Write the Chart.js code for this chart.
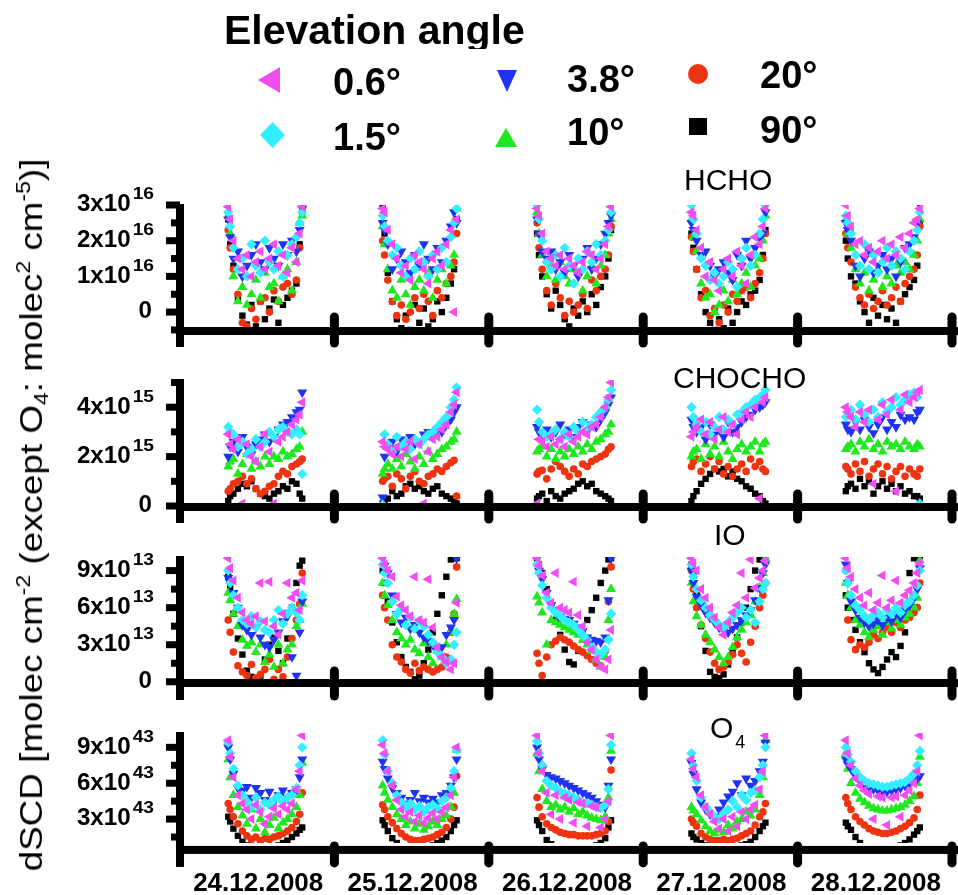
<!DOCTYPE html>
<html><head><meta charset="utf-8">
<script src="https://cdn.jsdelivr.net/npm/chart.js@4.4.1/dist/chart.umd.min.js"></script>
<style>
html,body{margin:0;padding:0;background:#fff;}
#wrap{position:relative;width:958px;height:895px;overflow:hidden;font-family:'Liberation Sans',Arial,Helvetica,sans-serif;color:#000;}
canvas{position:absolute;left:0;top:0;}
.t{position:absolute;white-space:nowrap;}
.mk{position:absolute;}
.lg{font-weight:bold;font-size:38px;line-height:38px;}
.pn{font-size:30px;line-height:30px;}
.sp{font-size:20px;line-height:0;vertical-align:12px;}
.sb{font-size:20px;line-height:0;vertical-align:-6px;}
</style></head><body>
<div id="wrap">
<canvas id="c0" width="958" height="895"></canvas>
<canvas id="c1" width="958" height="895"></canvas>
<canvas id="c2" width="958" height="895"></canvas>
<canvas id="c3" width="958" height="895"></canvas>

<div class="t" style="left:224px;top:10px;height:39px;overflow:hidden;font-weight:bold;font-size:41px;line-height:41px;">Elevation angle</div>
<div class="mk" style="left:258px;top:67px;width:22px;height:26px;background:#f24df2;clip-path:polygon(0 50%,100% 0,100% 100%);"></div>
<div class="mk" style="left:260px;top:122px;width:25px;height:26px;background:#33eeff;clip-path:polygon(50% 0,100% 50%,50% 100%,0 50%);"></div>
<div class="mk" style="left:497px;top:70px;width:20px;height:22px;background:#1f33f2;clip-path:polygon(0 0,100% 0,50% 100%);"></div>
<div class="mk" style="left:495px;top:128px;width:22px;height:19px;background:#1fe81f;clip-path:polygon(50% 0,100% 100%,0 100%);"></div>
<div class="mk" style="left:688px;top:64px;width:20px;height:20px;border-radius:50%;background:#ee3311;"></div>
<div class="mk" style="left:689px;top:118px;width:18px;height:17px;background:#000;"></div>
<div class="t lg" id="lg0" style="left:333px;top:63px;"></div>
<div class="t lg" id="lg1" style="left:333px;top:118px;"></div>
<div class="t lg" id="lg2" style="left:567px;top:60px;"></div>
<div class="t lg" id="lg3" style="left:567px;top:113px;"></div>
<div class="t lg" id="lg4" style="left:760px;top:56px;"></div>
<div class="t lg" id="lg5" style="left:760px;top:111px;"></div>

<div class="t pn" style="left:684px;top:165px;">HCHO</div>
<div class="t pn" style="left:673px;top:363px;">CHOCHO</div>
<div class="t pn" style="left:714px;top:520px;">IO</div>
<div class="t pn" style="left:710px;top:713px;">O<span style="font-size:18px;line-height:0;vertical-align:-10px;margin-left:2px;">4</span></div>

<div class="t" style="left:31px;top:515px;font-size:32px;line-height:32px;transform:translate(-50%,-50%) rotate(-90deg) scaleX(1.15);">dSCD [molec cm<span class="sp">-2</span> (except O<span class="sb">4</span>: molec<span class="sp">2</span> cm<span class="sp">-5</span>)]</div>
</div>
<script>
// ---------------- data ----------------
const hours = [7.5, 7.8, 8.3, 9.0, 9.7, 10.4, 11.1, 11.8, 12.5, 13.2, 13.9, 14.6, 15.3, 16.0, 16.7, 17.4, 18.1, 18.6, 19.0];
const days = ['24.12.2008', '25.12.2008', '26.12.2008', '27.12.2008', '28.12.2008'];
const elevations = ['0.6°', '1.5°', '3.8°', '10°', '20°', '90°'];

// HCHO dSCD, units of 1e16 molec cm^-2 (one row per day)
const hcho_e06 = [
 [2.95,2.6,2.0,1.5,1.2,1.6,1.0,1.4,1.7,1.2,1.5,1.9,1.3,1.6,1.1,1.8,1.4,2.2,2.95],
 [2.9,2.8,2.3,1.9,1.5,1.1,1.3,0.9,1.6,1.4,1.2,0.8,1.5,1.7,1.3,1.9,2.3,0.0,2.6],
 [2.9,2.7,2.2,1.7,1.5,1.3,1.6,1.2,1.5,1.3,1.1,1.4,1.7,1.6,1.2,1.5,1.9,2.4,2.95],
 [2.8,2.7,2.3,1.8,1.0,1.4,0.9,0.6,1.2,1.5,1.0,1.7,1.3,0.8,1.6,2.1,1.9,2.4,2.9],
 [3.0,2.7,2.4,1.9,2.0,1.6,1.8,1.4,1.7,2.0,1.5,1.9,1.6,2.1,1.8,2.2,2.5,2.6,2.9]];
const hcho_e15 = [
 [2.8,2.4,1.8,1.2,1.5,1.0,1.9,1.3,1.1,2.0,1.4,1.2,1.7,1.0,1.6,1.9,2.1,2.5,2.8],
 [2.7,2.4,2.0,1.6,1.8,1.3,1.0,1.5,1.2,1.7,1.4,1.0,1.6,1.2,1.8,1.4,2.1,2.5,2.9],
 [3.0,2.6,2.0,1.4,1.2,1.6,1.0,1.8,1.3,0.8,1.5,1.2,1.7,1.4,1.9,1.6,2.0,2.3,2.8],
 [3.0,2.6,2.2,1.5,1.3,0.9,1.1,0.8,1.0,1.4,1.2,0.7,1.5,1.8,1.3,1.6,2.2,2.6,3.0],
 [2.7,2.5,2.2,1.6,1.3,1.9,1.2,1.6,1.1,1.4,1.8,1.3,1.7,1.5,1.2,1.7,2.0,2.3,2.8]];
const hcho_e38 = [
 [2.6,2.1,1.5,1.7,1.0,1.3,1.6,1.9,1.4,1.2,1.8,1.5,1.3,1.9,1.6,2.0,1.7,2.3,2.9],
 [2.5,2.3,1.9,1.2,1.5,1.7,1.4,1.1,1.6,1.3,1.9,1.5,1.2,1.8,1.4,2.0,2.4,2.8,2.5],
 [2.6,2.2,1.7,1.5,1.7,1.2,1.4,1.1,1.6,1.3,1.0,1.5,1.8,1.2,1.5,1.9,2.2,2.5,2.7],
 [2.5,2.3,2.0,1.6,1.7,1.3,1.0,1.2,1.4,1.1,0.9,1.6,1.3,2.0,1.5,1.8,2.1,2.2,2.8],
 [2.5,2.3,2.0,1.3,1.0,1.5,1.7,1.1,1.3,1.6,1.2,1.5,1.0,1.4,1.8,1.9,2.1,2.5,3.0]];
const hcho_e10 = [
 [2.7,2.2,1.0,0.3,0.7,0.2,0.5,0.9,0.4,1.1,0.7,0.8,0.3,1.0,1.2,0.6,1.4,2.5,2.7],
 [2.4,1.9,1.2,0.6,0.4,0.9,0.5,0.2,0.7,0.9,0.6,1.1,0.4,0.9,1.2,0.8,1.3,1.6,2.9],
 [2.8,2.2,1.6,1.0,1.3,0.9,1.4,1.0,0.8,1.2,1.1,0.6,1.0,1.3,0.8,1.3,1.6,2.2,2.6],
 [2.6,2.1,1.7,0.8,0.4,0.5,0.0,0.2,0.6,0.3,0.9,0.5,0.8,1.1,0.7,1.3,1.5,2.0,2.7],
 [2.6,2.2,1.8,1.2,0.8,1.1,0.6,0.9,1.2,0.7,1.0,0.8,1.3,1.1,1.4,1.2,1.6,2.0,2.6]];
const hcho_e20 = [
 [2.3,1.8,1.2,0.5,-0.3,-0.4,0.1,-0.2,0.3,0.4,0.0,0.6,0.3,0.7,0.8,0.5,0.9,1.8,2.8],
 [2.0,1.6,0.9,0.3,-0.1,0.2,-0.2,0.0,0.4,0.1,0.5,0.3,-0.1,0.6,0.4,0.8,1.0,1.4,2.2],
 [2.5,1.8,1.2,0.6,0.2,0.8,0.4,-0.1,0.3,0.0,0.2,0.5,0.1,0.9,0.6,1.0,1.2,1.6,2.4],
 [2.1,1.7,1.2,0.4,0.6,-0.1,0.1,-0.3,0.2,0.0,0.5,0.3,0.6,0.7,0.4,0.8,1.1,1.5,2.2],
 [2.2,1.8,1.4,0.7,0.4,0.2,0.5,0.1,0.3,0.6,0.2,0.4,0.7,0.3,0.8,1.0,1.2,1.6,2.4]];
const hcho_e90 = [
 [2.6,1.9,1.3,0.4,-0.1,-0.35,0.2,-0.4,0.3,-0.2,0.1,0.35,-0.3,0.2,0.4,0.6,0.8,1.9,2.9],
 [3.0,2.2,1.1,0.3,-0.2,-0.45,-0.1,-0.5,0.2,-0.3,0.1,-0.4,-0.2,0.3,0.0,0.4,0.8,1.2,2.6],
 [2.2,1.6,1.0,0.5,0.1,0.6,0.2,-0.2,-0.4,0.1,-0.1,0.3,0.0,0.5,0.2,0.7,1.0,1.5,2.3],
 [2.2,1.8,1.2,0.5,0.0,-0.3,-0.5,-0.2,-0.45,0.1,-0.3,0.0,0.3,0.2,0.5,0.6,0.9,1.6,2.3],
 [2.0,1.5,1.0,0.8,0.3,0.0,-0.3,0.4,-0.1,0.2,-0.2,0.1,-0.3,0.3,0.5,0.7,0.9,1.3,2.5]];

// CHOCHO dSCD, units of 1e15 molec cm^-2
const chocho_e06 = [
 [2.9,2.5,2.3,2.7,0.1,2.5,2.0,1.8,2.4,2.9,2.2,0.1,2.6,2.8,3.0,3.3,3.5,3.7,4.2],
 [2.6,2.4,2.3,2.1,2.4,2.0,2.3,2.6,1.9,2.5,0.1,2.2,2.7,2.8,3.1,3.3,3.8,4.1,4.6],
 [0.1,2.7,2.6,2.4,2.8,2.5,2.7,2.4,2.9,2.6,2.8,3.0,2.9,3.2,3.3,3.6,4.0,4.4,5.0],
 [2.8,3.0,3.2,3.5,2.9,3.4,2.7,3.1,3.6,3.0,3.3,2.9,3.5,3.8,3.6,4.0,0.3,4.2,4.4],
 [4.0,3.8,3.6,3.2,3.8,3.4,3.9,0.9,3.5,4.1,3.7,4.3,0.6,3.9,4.5,4.2,4.4,4.6,4.7]];
const chocho_e15 = [
 [3.2,3.0,2.9,2.4,2.6,2.1,2.3,2.7,2.4,2.6,3.0,2.8,3.1,3.2,3.0,2.9,3.1,2.9,1.3],
 [0.05,2.9,2.5,2.2,2.8,2.4,2.6,2.3,2.7,2.5,2.7,2.9,3.0,3.2,3.4,3.6,4.0,4.3,4.8],
 [3.9,3.4,3.0,2.8,2.9,3.1,2.7,3.0,2.8,3.2,3.0,3.4,3.1,3.3,3.6,3.8,4.0,4.3,4.7],
 [4.0,3.6,3.3,3.0,3.4,2.9,3.2,3.6,3.1,3.5,3.3,3.7,3.8,4.0,4.1,4.3,4.4,4.5,4.7],
 [3.6,3.8,3.9,3.5,4.1,3.7,3.4,3.9,3.6,4.2,3.8,4.0,4.4,4.1,4.3,4.5,4.6,4.4,0.1]];
const chocho_e38 = [
 [2.0,2.4,2.6,2.2,2.8,2.4,2.1,2.5,2.7,2.9,2.6,2.8,3.1,3.3,3.4,3.6,3.8,3.9,4.6],
 [0.35,2.0,2.4,2.6,2.2,2.7,2.4,2.8,2.5,2.6,2.9,3.0,2.8,3.1,3.0,3.3,3.5,3.8,4.0],
 [3.2,3.0,2.9,3.1,2.8,3.0,3.3,2.9,3.1,2.8,3.2,3.4,3.0,3.3,3.2,3.5,3.8,4.1,4.4],
 [3.5,3.2,3.0,3.2,2.7,3.3,2.9,3.1,2.8,3.4,3.0,3.2,3.4,3.6,3.7,3.9,4.0,4.1,4.2],
 [3.3,3.1,3.0,3.4,3.1,3.5,3.2,2.95,3.3,3.6,3.1,3.4,3.2,3.7,3.5,3.6,3.5,3.8,3.9]];
const chocho_e10 = [
 [1.6,1.8,1.9,1.3,1.7,2.1,1.5,1.8,1.6,2.0,1.7,2.0,1.9,2.2,2.0,2.1,2.3,2.4,3.0],
 [1.3,1.5,1.7,1.5,1.9,1.6,2.1,1.8,1.5,2.0,1.7,2.2,1.9,2.1,2.3,2.4,2.6,2.7,3.0],
 [2.2,2.3,2.4,2.0,2.3,1.9,2.2,2.0,2.3,2.1,2.4,2.2,2.5,2.3,2.6,2.7,2.9,3.0,3.3],
 [2.0,2.2,2.3,1.9,2.5,2.1,2.4,2.0,2.6,2.2,1.9,2.3,2.5,2.2,2.4,2.6,2.2,2.5,2.6],
 [2.3,2.4,2.5,2.2,2.6,2.4,2.7,2.3,2.5,2.2,2.6,2.4,2.5,2.3,2.6,2.4,2.3,2.5,2.4]];
const chocho_e20 = [
 [0.6,0.7,0.9,1.0,1.2,0.9,1.1,0.7,0.5,0.6,0.8,0.9,1.2,1.4,1.3,1.6,1.7,1.8,1.9],
 [1.0,1.1,1.2,0.8,1.3,1.1,0.7,1.2,1.4,1.0,0.9,1.2,1.3,1.5,1.4,1.6,1.75,1.85,0.4],
 [1.3,1.4,1.45,1.1,1.5,1.8,1.6,1.4,1.2,1.5,1.3,1.7,1.6,1.8,1.9,2.0,2.1,2.3,2.4],
 [1.6,1.8,1.9,1.4,1.7,2.0,1.5,1.8,1.3,1.6,1.2,1.5,1.7,1.4,1.9,1.6,1.8,1.5,1.4],
 [1.6,1.5,1.3,1.7,1.4,1.8,1.2,1.5,1.7,1.3,1.6,1.1,1.4,1.6,1.2,1.5,1.3,1.2,1.5]];
const chocho_e90 = [
 [0.2,0.4,0.5,0.7,0.9,0.8,1.0,0.7,0.5,0.4,0.3,0.5,0.6,0.8,0.7,1.0,0.9,0.5,0.3],
 [0.1,0.2,0.3,0.6,0.4,0.5,0.8,0.9,0.7,0.8,0.6,0.5,0.7,0.8,0.5,0.4,0.3,0.2,0.1],
 [0.3,0.4,0.5,0.2,0.6,0.4,0.3,0.5,0.6,0.7,0.9,1.0,0.8,0.9,0.6,0.5,0.4,0.3,0.2],
 [0.2,0.4,0.6,0.9,1.1,1.3,1.5,1.4,1.5,1.2,1.4,1.1,1.0,0.8,0.7,0.5,0.4,0.2,0.1],
 [0.6,0.8,0.9,0.7,1.1,0.8,1.0,0.5,0.8,1.0,0.7,0.9,0.6,0.8,0.5,0.6,0.4,0.4,0.3]];

// IO dSCD, units of 1e13 molec cm^-2
const io_e06 = [
 [10.0,9.2,8.2,6.8,5.6,5.0,4.7,5.3,8.0,4.9,8.1,4.5,3.8,5.5,8.0,6.8,7.2,5.8,8.2],
 [10.0,9.5,9.0,8.5,6.9,6.2,5.8,5.3,8.5,5.0,4.8,8.3,4.4,2.8,2.0,1.6,1.0,1.5,6.4],
 [10.0,9.4,8.6,7.2,6.4,8.8,6.0,5.8,5.6,8.1,5.4,4.5,3.2,2.6,1.8,1.2,1.0,1.8,4.2],
 [10.0,9.6,9.0,7.5,6.8,6.0,5.2,4.4,3.8,4.8,5.6,6.2,8.8,6.8,9.9,7.6,8.4,9.0,9.8],
 [10.0,9.2,8.5,7.5,6.8,6.2,7.2,5.8,6.4,8.6,6.0,6.6,8.2,6.4,7.0,7.4,8.0,8.8,9.6]];
const io_e15 = [
 [9.0,8.0,7.0,6.0,5.0,4.7,5.3,4.4,4.9,4.2,4.0,5.0,5.8,4.7,5.5,6.0,5.6,5.0,7.0],
 [9.5,8.8,8.0,6.5,5.5,5.9,4.6,5.2,4.3,4.9,4.5,3.8,3.2,2.4,2.0,1.5,1.8,3.0,4.0],
 [9.5,8.8,7.8,6.8,6.0,5.6,5.3,5.0,4.8,4.6,4.2,3.8,3.4,2.8,2.4,2.2,2.6,3.4,5.5],
 [9.5,8.5,7.5,6.6,6.0,5.4,5.0,4.6,4.4,4.8,5.2,5.6,6.0,5.2,5.8,4.8,6.5,7.5,8.0],
 [9.0,8.0,7.0,6.2,5.8,5.3,5.0,5.4,5.6,5.2,5.8,5.5,6.0,5.6,6.2,6.5,7.0,7.8,9.0]];
const io_e38 = [
 [8.4,8.0,7.2,6.0,4.6,4.2,3.8,4.4,3.6,3.0,2.8,3.4,4.0,4.9,5.3,2.0,0.5,4.0,6.5],
 [10.0,9.4,8.8,7.0,5.5,4.8,5.2,4.3,4.6,4.0,3.6,3.3,3.0,2.5,2.8,3.8,4.4,5.0,10.0],
 [10.0,9.0,8.3,7.2,6.2,5.5,5.3,5.1,5.0,4.7,4.4,4.1,3.6,3.4,3.3,3.2,3.6,6.6,10.0],
 [9.0,8.0,6.9,6.2,5.6,5.2,4.8,4.4,4.2,4.0,4.3,4.6,5.0,5.4,5.8,6.6,7.6,8.8,9.5],
 [9.5,8.0,6.5,5.8,5.2,4.8,4.5,4.7,5.0,4.6,5.2,4.9,5.5,5.2,5.8,6.2,6.8,7.5,9.2]];
const io_e10 = [
 [7.2,6.6,5.5,4.5,3.4,2.9,3.2,2.4,3.0,1.6,2.2,1.2,3.0,1.5,2.6,3.0,4.5,5.0,6.3],
 [8.0,7.0,6.2,5.0,4.0,3.5,3.0,3.4,2.6,2.3,3.1,2.0,1.5,2.5,2.0,3.0,4.0,5.5,6.7],
 [6.9,6.4,5.6,3.0,5.0,4.8,4.6,4.4,4.2,4.0,3.8,3.4,3.0,2.5,1.8,1.2,2.0,5.0,7.5],
 [8.0,6.5,5.3,4.6,3.8,3.2,2.6,2.0,1.5,2.0,2.8,3.6,4.2,4.8,5.4,6.5,7.6,8.8,10.0],
 [8.0,7.0,6.0,5.0,4.6,4.0,3.6,4.2,4.5,3.8,4.8,4.3,5.0,4.6,5.2,5.5,6.0,6.8,9.8]];
const io_e20 = [
 [5.0,4.0,2.4,1.3,0.8,0.5,1.4,0.3,0.6,1.0,1.8,0.2,1.0,0.4,2.0,3.5,5.0,6.3,8.8],
 [7.0,6.0,5.0,3.0,2.0,1.6,1.0,0.7,1.5,0.9,1.2,1.0,0.8,1.0,1.2,2.0,4.0,5.5,9.3],
 [2.3,1.5,0.5,2.0,3.0,3.3,3.6,3.4,3.2,2.9,2.6,2.4,2.1,1.8,1.5,1.3,2.5,6.5,9.3],
 [9.0,7.5,6.0,4.6,3.5,2.4,1.5,1.0,1.2,1.6,2.2,3.0,2.3,1.6,3.2,4.5,6.0,7.0,8.0],
 [9.0,5.0,3.4,2.6,3.0,2.8,3.2,3.8,3.5,4.0,4.4,4.0,4.8,4.4,5.0,5.2,5.6,6.0,8.0]];
const io_e90 = [
 [8.5,7.6,5.5,3.5,2.2,0.9,0.4,0.2,0.5,1.8,3.0,3.6,2.5,1.5,3.5,6.0,8.0,9.4,9.8],
 [9.0,8.0,6.5,4.8,3.2,2.0,1.2,0.8,0.2,0.5,1.5,2.6,4.0,5.5,7.0,8.5,9.9,10.0,10.0],
 [10.0,9.5,8.8,7.5,6.2,5.0,3.8,2.6,1.6,1.4,2.5,3.8,5.0,5.8,6.8,8.0,9.0,9.9,10.0],
 [9.5,8.6,7.0,4.5,2.5,0.8,0.4,0.3,0.6,1.4,2.4,3.6,4.8,6.0,7.5,9.0,9.9,10.0,10.0],
 [7.0,6.0,5.0,4.2,3.2,2.4,1.5,1.0,0.7,1.2,1.8,2.4,2.0,2.9,4.0,8.8,10.0,10.0,10.0]];

// O4 dSCD, units of 1e43 molec^2 cm^-5
const o4_e06 = [
 [9.6,8.2,6.5,5.0,4.3,3.8,3.0,4.2,3.6,2.6,3.2,3.9,3.4,4.1,3.8,4.3,5.5,7.0,10.0],
 [9.2,8.5,7.0,5.8,4.6,3.8,3.2,3.6,2.8,3.3,2.7,3.1,3.5,3.0,3.6,4.0,5.0,6.5,9.0],
 [10.0,8.5,7.0,5.2,3.4,5.0,3.0,4.8,4.6,2.7,4.4,4.3,2.4,4.1,4.0,2.3,3.0,4.5,10.0],
 [8.0,7.2,6.5,5.0,4.0,3.4,2.8,2.2,3.0,2.0,3.2,2.4,3.6,3.0,3.8,4.2,5.5,7.0,10.0],
 [9.6,8.5,7.5,6.4,5.8,5.4,5.1,3.0,4.9,4.8,2.5,4.8,4.9,3.2,5.0,5.4,6.0,7.0,10.0]];
const o4_e15 = [
 [9.4,8.5,7.2,5.8,5.0,4.5,4.0,4.8,3.8,4.4,4.2,4.6,4.9,4.4,4.8,5.0,5.6,7.5,9.0],
 [9.6,8.4,7.0,6.0,5.0,4.4,4.0,4.3,3.8,4.1,3.6,4.0,4.2,3.9,4.5,4.8,5.6,7.0,8.8],
 [9.5,8.5,7.5,6.2,5.8,5.6,5.3,5.1,5.0,4.8,4.6,4.4,4.3,4.2,4.0,3.9,4.2,5.5,9.2],
 [8.5,7.5,6.2,4.8,4.0,3.6,3.2,3.0,3.5,3.8,4.5,4.0,5.0,4.6,5.2,5.4,6.5,7.5,9.0],
 [9.0,8.4,7.8,7.0,6.5,6.2,6.0,5.9,5.8,5.7,5.7,5.8,5.9,6.0,6.1,6.4,6.8,7.5,8.7]];
const o4_e38 = [
 [9.0,8.0,6.8,5.6,5.4,5.7,4.8,5.6,5.2,4.6,5.3,4.4,5.0,5.4,4.8,5.2,5.5,6.5,8.0],
 [7.8,7.2,6.4,5.6,5.2,4.8,4.3,4.6,5.2,4.5,4.8,4.4,4.7,4.4,5.0,5.2,5.8,6.5,8.0],
 [9.0,8.0,7.2,6.7,6.5,6.4,6.2,6.0,5.8,5.6,5.4,5.2,5.0,4.8,4.5,4.2,4.0,5.8,8.0],
 [7.7,6.8,5.5,4.4,3.8,3.4,3.2,3.8,4.4,4.9,5.3,6.0,5.0,6.4,5.8,6.2,7.0,7.8,9.4],
 [8.0,7.6,7.2,6.6,6.2,5.9,5.7,5.5,5.4,5.3,5.3,5.4,5.5,5.6,5.8,6.0,6.2,6.4,6.6]];
const o4_e10 = [
 [8.0,6.5,5.0,4.0,3.3,2.6,3.8,2.2,3.0,1.9,2.5,3.1,2.2,2.7,3.0,3.4,4.0,5.0,7.7],
 [5.8,5.2,4.6,4.0,3.4,3.0,2.5,2.8,2.2,2.6,2.1,2.4,2.8,2.5,3.0,3.3,4.0,5.2,8.8],
 [8.5,7.0,5.5,4.5,4.0,4.2,3.8,4.0,3.6,3.9,3.4,3.6,3.3,3.1,3.0,2.9,3.2,4.8,8.7],
 [4.0,3.7,3.4,2.9,2.4,2.0,1.8,2.1,1.9,2.5,2.2,2.8,3.0,3.6,3.3,3.8,5.0,6.5,9.6],
 [8.5,7.2,6.0,5.2,4.7,4.4,4.1,3.9,3.8,3.7,3.7,3.8,3.9,4.0,4.2,4.5,4.9,6.0,8.2]];
const o4_e20 = [
 [4.3,3.8,3.2,2.6,2.0,1.6,1.3,1.5,1.2,1.4,1.3,1.5,1.6,1.8,2.0,2.3,2.8,3.4,5.2],
 [4.2,3.8,3.2,2.7,2.2,1.8,1.5,1.3,1.2,1.2,1.3,1.4,1.5,1.7,1.9,2.3,3.0,4.0,6.6],
 [4.8,4.0,3.2,2.6,2.3,2.1,1.9,1.8,1.7,1.7,1.6,1.6,1.6,1.6,1.7,1.8,2.0,2.8,7.1],
 [3.0,2.7,2.4,1.8,1.5,1.3,1.2,1.2,1.3,1.2,1.3,1.4,1.6,1.8,2.0,2.5,3.2,3.6,4.3],
 [4.8,4.3,3.8,3.2,2.8,2.5,2.2,2.0,1.9,1.8,1.8,1.9,2.0,2.2,2.4,2.7,3.1,3.8,5.0]];
const o4_e90 = [
 [3.2,2.8,2.2,1.6,1.1,0.8,0.6,0.5,0.5,0.5,0.6,0.7,0.8,1.0,1.2,1.5,1.8,2.1,2.3],
 [2.9,2.5,2.0,1.4,1.0,0.7,0.5,0.5,0.5,0.5,0.6,0.7,0.8,1.0,1.2,1.5,2.0,2.5,2.9],
 [2.9,2.5,2.0,1.25,0.9,0.7,0.6,0.5,0.5,0.5,0.5,0.6,0.6,0.7,0.8,1.0,1.4,2.3,2.9],
 [1.8,1.5,1.3,1.0,0.8,0.6,0.5,0.5,0.5,0.5,0.6,0.7,0.8,0.9,1.1,1.5,2.0,2.4,2.7],
 [2.7,2.4,2.1,1.5,1.0,0.7,0.5,0.4,0.4,0.4,0.4,0.5,0.6,0.8,1.0,1.3,1.7,2.0,2.3]];

// tick values / labels
const hchoTicks = [0, 1, 2, 3];
const hchoTickLabels = ['0', '1x10^16', '2x10^16', '3x10^16'];
const hchoMinor = [-0.5, 0.5, 1.5, 2.5];
const chochoTicks = [0, 2, 4];
const chochoTickLabels = ['0', '2x10^15', '4x10^15'];
const chochoMinor = [1, 3, 5];
const ioTicks = [0, 3, 6, 9];
const ioTickLabels = ['0', '3x10^13', '6x10^13', '9x10^13'];
const ioMinor = [1.5, 4.5, 7.5];
const o4Ticks = [3, 6, 9];
const o4TickLabels = ['3x10^43', '6x10^43', '9x10^43'];
const o4Minor = [1.5, 4.5, 7.5];

// ---------------- styles / layout ----------------
const FONT = "'Liberation Sans', Arial, Helvetica, sans-serif";
const seriesStyle = [
  {color: '#f24df2', shape: 'triangle', rot: 270, r: 5.8},
  {color: '#33eeff', shape: 'rectRot', rot: 0, r: 5.2},
  {color: '#1f33f2', shape: 'triangle', rot: 180, r: 5.8},
  {color: '#1fe81f', shape: 'triangle', rot: 0, r: 5.8},
  {color: '#ee3311', shape: 'circle', rot: 0, r: 3.8},
  {color: '#000000', shape: 'rect', rot: 0, r: 4.5}
];
elevations.forEach((e, i) => { document.getElementById('lg' + i).textContent = e; });

const panels = [
  {id: 'c0', sets: [hcho_e06, hcho_e15, hcho_e38, hcho_e10, hcho_e20, hcho_e90], yMin: -0.53, yMax: 3.0,
   ticks: hchoTicks, labels: hchoTickLabels, minors: hchoMinor, axisVal: -0.53, top: 205, bottom: 564,
   yBelow: 16, tickAbove: 18, tickBelow: 16, dates: false},
  {id: 'c1', sets: [chocho_e06, chocho_e15, chocho_e38, chocho_e10, chocho_e20, chocho_e90], yMin: -0.04, yMax: 5.1,
   ticks: chochoTicks, labels: chochoTickLabels, minors: chochoMinor, axisVal: -0.04, top: 380, bottom: 388,
   yBelow: 16, tickAbove: 17, tickBelow: 16, dates: false},
  {id: 'c2', sets: [io_e06, io_e15, io_e38, io_e10, io_e20, io_e90], yMin: -0.1, yMax: 10.1,
   ticks: ioTicks, labels: ioTickLabels, minors: ioMinor, axisVal: -0.1, top: 557, bottom: 212,
   yBelow: 17, tickAbove: 16, tickBelow: 17, dates: false},
  {id: 'c3', sets: [o4_e06, o4_e15, o4_e38, o4_e10, o4_e20, o4_e90], yMin: 1.0, yMax: 10.2,
   ticks: o4Ticks, labels: o4TickLabels, minors: o4Minor, axisVal: 0.42, top: 733, bottom: 52,
   yBelow: 17, tickAbove: 8, tickBelow: 17, dates: true}
];

function toPoints(values) {
  const pts = [];
  values.forEach((dayVals, d) => dayVals.forEach((v, i) => pts.push({x: d * 24 + hours[i], y: v})));
  return pts;
}

function stretchText(ctx, txt, xRight, y, sx) {
  const w = ctx.measureText(txt).width * sx;
  ctx.save();
  ctx.translate(xRight - w, y);
  ctx.scale(sx, 1);
  ctx.textAlign = 'left';
  ctx.fillText(txt, 0, 0);
  ctx.restore();
  return w;
}

const axesDeco = {
  id: 'axesDeco',
  afterDraw(chart, args, o) {
    const ctx = chart.ctx, xs = chart.scales.x, ys = chart.scales.y;
    const x0 = xs.getPixelForValue(0);
    const ay = ys.getPixelForValue(o.axisVal);
    const top = ys.getPixelForValue(o.yMax);
    ctx.save();
    ctx.fillStyle = '#000'; ctx.strokeStyle = '#000';
    ctx.fillRect(x0 - 4, top - 1, 8, ay + o.yBelow - top + 1);
    ctx.fillRect(x0 - 4, ay - 4, chart.width - x0 + 4, 8);
    ctx.lineCap = 'round'; ctx.lineWidth = 9;
    for (let k = 1; k <= days.length; k++) {
      const px = xs.getPixelForValue(k * 24);
      ctx.beginPath(); ctx.moveTo(px, ay - o.tickAbove + 4); ctx.lineTo(px, ay + o.tickBelow - 4); ctx.stroke();
    }
    o.ticks.forEach(v => { const py = ys.getPixelForValue(v); ctx.fillRect(x0 - 14, py - 3.5, 14, 7); });
    o.minors.forEach(v => { const py = ys.getPixelForValue(v); ctx.fillRect(x0 - 9, py - 3.5, 9, 7); });
    const right = 154;
    ctx.textBaseline = 'middle';
    o.ticks.forEach((v, i) => {
      const py = ys.getPixelForValue(v);
      const parts = o.labels[i].split('^');
      let baseRight = right - 2;
      if (parts.length > 1) {
        ctx.font = 'bold 16px ' + FONT;
        const w = stretchText(ctx, parts[1], right, py - 10, 1.2);
        baseRight = right - w - 2;
      }
      ctx.font = 'bold 23px ' + FONT;
      stretchText(ctx, parts[0], baseRight, py, 1.05);
    });
    if (o.dates) {
      ctx.font = 'bold 26px ' + FONT; ctx.textAlign = 'center'; ctx.textBaseline = 'alphabetic';
      days.forEach((d, k) => ctx.fillText(d, xs.getPixelForValue(k * 24 + 12) + 1, 891));
    }
    ctx.restore();
  }
};

panels.forEach(p => {
  new Chart(document.getElementById(p.id), {
    type: 'scatter',
    data: {
      datasets: p.sets.map((vals, s) => ({
        label: elevations[s],
        data: toPoints(vals),
        pointStyle: seriesStyle[s].shape,
        pointRotation: seriesStyle[s].rot,
        pointRadius: seriesStyle[s].r,
        pointBackgroundColor: seriesStyle[s].color,
        pointBorderColor: seriesStyle[s].color,
        pointBorderWidth: 0,
        clip: 0
      }))
    },
    options: {
      responsive: false, animation: false, devicePixelRatio: 1,
      layout: {padding: {left: 180, right: 6, top: p.top, bottom: p.bottom}},
      scales: {
        x: {type: 'linear', min: 0, max: 24 * days.length, display: false},
        y: {type: 'linear', min: p.yMin, max: p.yMax, display: false}
      },
      plugins: {
        legend: {display: false}, tooltip: {enabled: false},
        axesDeco: {ticks: p.ticks, labels: p.labels, minors: p.minors, axisVal: p.axisVal, yMax: p.yMax,
                   yBelow: p.yBelow, tickAbove: p.tickAbove, tickBelow: p.tickBelow, dates: p.dates}
      }
    },
    plugins: [axesDeco]
  });
});
</script>
</body></html>
